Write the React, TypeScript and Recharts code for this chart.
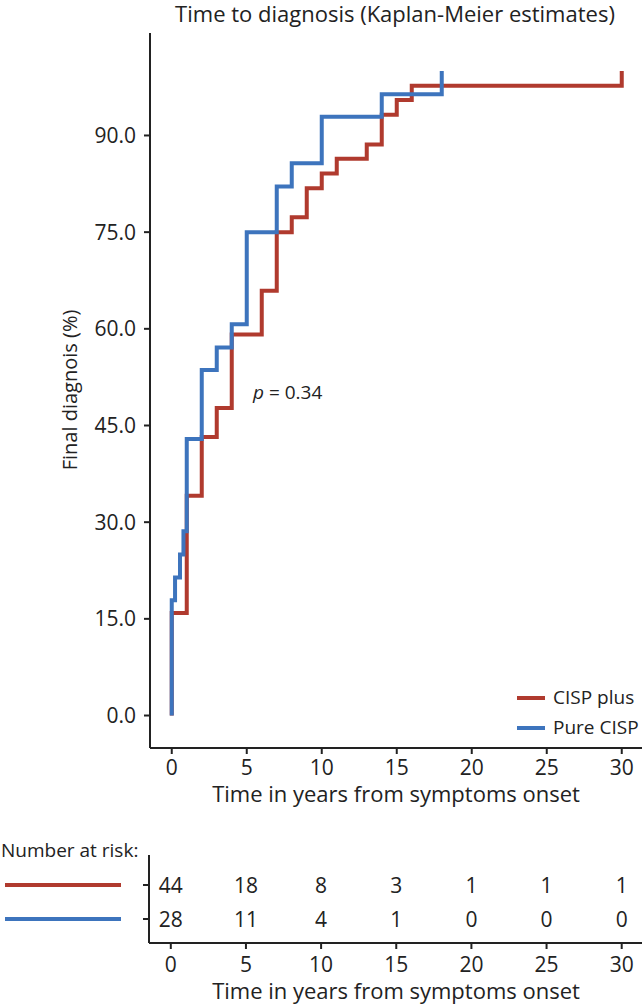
import { LineChart, Line, XAxis, YAxis, ScatterChart, Scatter } from "recharts";

const xTicks = [0, 5, 10, 15, 20, 25, 30];
const yTicks = [0, 15, 30, 45, 60, 75, 90];

// CISP plus (n = 44)
const plusTimes = [0, 0, 1, 2, 3, 4, 6, 7, 8, 9, 10, 11, 13, 14, 15, 16, 30];
const plusValues = [0, 15.9, 34.1, 43.2, 47.7, 59.1, 65.9, 75.0, 77.3, 81.8, 84.1, 86.4, 88.6, 93.2, 95.5, 97.7, 100];

// Pure CISP (n = 28)
const pureTimes = [0, 0, 0.22, 0.55, 0.78, 1, 2, 3, 4, 5, 7, 8, 10, 14, 18];
const pureValues = [0, 17.9, 21.4, 25.0, 28.6, 42.9, 53.6, 57.1, 60.7, 75.0, 82.1, 85.7, 92.9, 96.4, 100];

const plusAtRisk = [44, 18, 8, 3, 1, 1, 1];
const pureAtRisk = [28, 11, 4, 1, 0, 0, 0];

const RED = "#b03a2e";
const BLUE = "#3d74bd";
const INK = "#222";
const FONT = "'Open Sans', sans-serif";
const TICK_FS = 21;

const plusData = plusTimes.map((t, i) => ({ t, v: plusValues[i] }));
const pureData = pureTimes.map((t, i) => ({ t, v: pureValues[i] }));
const plusRisk = xTicks.map((t, i) => ({ t, row: 1, n: plusAtRisk[i] }));
const pureRisk = xTicks.map((t, i) => ({ t, row: 0, n: pureAtRisk[i] }));

const tickStyle = { fill: INK, fontSize: TICK_FS, fontFamily: FONT };

function RiskCount(props: any) {
  return (
    <text
      x={props.cx}
      y={props.cy}
      dy="0.36em"
      textAnchor="middle"
      fill={INK}
      fontSize={TICK_FS}
      fontFamily={FONT}
    >
      {props.payload.n}
    </text>
  );
}

function RiskTick(props: any) {
  const color = props.payload.value === 1 ? RED : BLUE;
  return <line x1={5} x2={121} y1={props.y} y2={props.y} stroke={color} strokeWidth={4} />;
}

export default function App() {
  return (
    <div style={{ position: "absolute", left: 0, top: 0, width: 642, height: 1005, background: "#fff" }}>
      <div style={{ position: "absolute", left: 0, top: 0 }}>
        <LineChart width={642} height={800} margin={{ top: 33, right: 0, bottom: 2, left: 0 }}>
          <XAxis
            type="number"
            dataKey="t"
            domain={[-1.45, 31.35]}
            ticks={xTicks}
            allowDataOverflow
            height={50}
            tick={tickStyle}
            tickSize={6}
            tickMargin={6}
            stroke={INK}
            strokeWidth={2}
          />
          <YAxis
            type="number"
            dataKey="v"
            domain={[-5.04, 105.9]}
            ticks={yTicks}
            allowDataOverflow
            width={150}
            tick={tickStyle}
            tickSize={6}
            tickMargin={8}
            tickFormatter={(v: number) => v.toFixed(1)}
            stroke={INK}
            strokeWidth={2}
          />
          <Line
            data={plusData}
            dataKey="v"
            type="stepAfter"
            stroke={RED}
            strokeWidth={4}
            dot={false}
            strokeLinejoin="miter"
            isAnimationActive={false}
          />
          <Line
            data={pureData}
            dataKey="v"
            type="stepAfter"
            stroke={BLUE}
            strokeWidth={4}
            dot={false}
            strokeLinejoin="miter"
            isAnimationActive={false}
          />
        </LineChart>
      </div>
      <div style={{ position: "absolute", left: 0, top: 830 }}>
        <ScatterChart width={642} height={175} margin={{ top: 25, right: 0, bottom: 32, left: 0 }}>
          <XAxis
            type="number"
            dataKey="t"
            domain={[-1.45, 31.35]}
            ticks={xTicks}
            allowDataOverflow
            height={30}
            tick={tickStyle}
            tickSize={6}
            tickMargin={8}
            stroke={INK}
            strokeWidth={2}
          />
          <YAxis
            type="number"
            dataKey="row"
            domain={[-0.706, 1.882]}
            ticks={[0, 1]}
            allowDataOverflow
            width={149}
            tick={RiskTick}
            tickSize={6}
            stroke={INK}
            strokeWidth={2}
          />
          <Scatter data={plusRisk} shape={RiskCount} isAnimationActive={false} />
          <Scatter data={pureRisk} shape={RiskCount} isAnimationActive={false} />
        </ScatterChart>
      </div>
      <svg
        width={642}
        height={1005}
        style={{ position: "absolute", left: 0, top: 0, pointerEvents: "none" }}
        fontFamily={FONT}
        fill={INK}
      >
        <text x={395} y={22} textAnchor="middle" fontSize={22}>
          Time to diagnosis (Kaplan-Meier estimates)
        </text>
        <text transform="translate(77,390) rotate(-90)" textAnchor="middle" fontSize={20}>
          Final diagnois (%)
        </text>
        <text x={253} y={399} fontSize={19}>
          <tspan fontStyle="italic">p</tspan> = 0.34
        </text>
        <line x1={517} x2={545} y1={698} y2={698} stroke={RED} strokeWidth={4} />
        <line x1={517} x2={545} y1={728} y2={728} stroke={BLUE} strokeWidth={4} />
        <text x={553} y={704} fontSize={19}>CISP plus</text>
        <text x={553} y={734} fontSize={19}>Pure CISP</text>
        <text x={396} y={802} textAnchor="middle" fontSize={22}>
          Time in years from symptoms onset
        </text>
        <text x={1} y={857} fontSize={19}>Number at risk:</text>
        <text x={396} y={999} textAnchor="middle" fontSize={22}>
          Time in years from symptoms onset
        </text>
      </svg>
    </div>
  );
}
